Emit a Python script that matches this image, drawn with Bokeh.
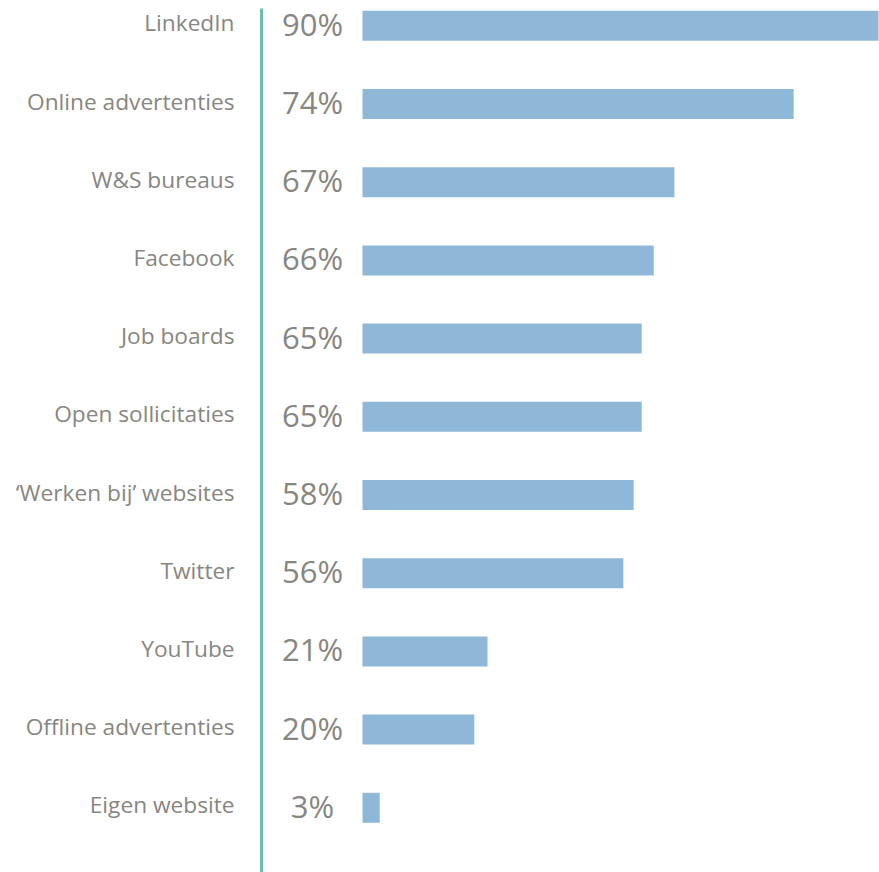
from bokeh.plotting import figure
from bokeh.models import Range1d, ColumnDataSource
from bokeh.core.properties import value
from bokeh.embed import file_html
from bokeh.resources import INLINE

categories = ["LinkedIn", "Online advertenties", "W&S bureaus", "Facebook", "Job boards",
              "Open sollicitaties", "\u2018Werken bij\u2019 websites", "Twitter", "YouTube",
              "Offline advertenties", "Eigen website"]
pct_labels = ["90%", "74%", "67%", "66%", "65%", "65%", "58%", "56%", "21%", "20%", "3%"]
bar_values = [90, 75.2, 54.4, 50.8, 48.7, 48.7, 47.3, 45.5, 21.8, 19.5, 3.0]

W, H = 879, 872
left_px = 362          # canvas x of bar origin
scale = (878 - left_px) / 90.0
row0 = 25.3
step = 78.2

x_range = Range1d(-left_px / scale, (W - left_px) / scale)
y_bottom = (H - row0) / step
y_top = -row0 / step
y_range = Range1d(y_bottom, y_top)

p = figure(width=W, height=H, x_range=x_range, y_range=y_range,
           output_backend="svg", toolbar_location=None, min_border=0,
           outline_line_color=None, background_fill_color="white",
           border_fill_color="white")
p.axis.visible = False
p.grid.visible = False

src = ColumnDataSource(dict(y=list(range(len(categories))), v=bar_values,
                            cat=categories, pct=pct_labels))

p.hbar(y="y", left=0, right="v", height=30 / step, source=src,
       fill_color="#8fb8d8", line_color=None)

p.text(x=0, y="y", text="cat", source=src, x_offset=-128, y_offset=-3,
       text_align="right", text_baseline="middle",
       text_font=value("Open Sans"), text_font_size="22.7px", text_color="#878680")

p.text(x=0, y="y", text="pct", source=src, x_offset=-50, y_offset=-2,
       text_align="center", text_baseline="middle",
       text_font=value("Open Sans"), text_font_size="31px", text_color="#878680")

line_x = (261 - left_px) / scale
p.segment(x0=[line_x], x1=[line_x], y0=[(8 - row0) / step], y1=[y_bottom],
          line_color="#6cc1a5", line_width=3)

open("out.html", "w").write(file_html(p, INLINE))
